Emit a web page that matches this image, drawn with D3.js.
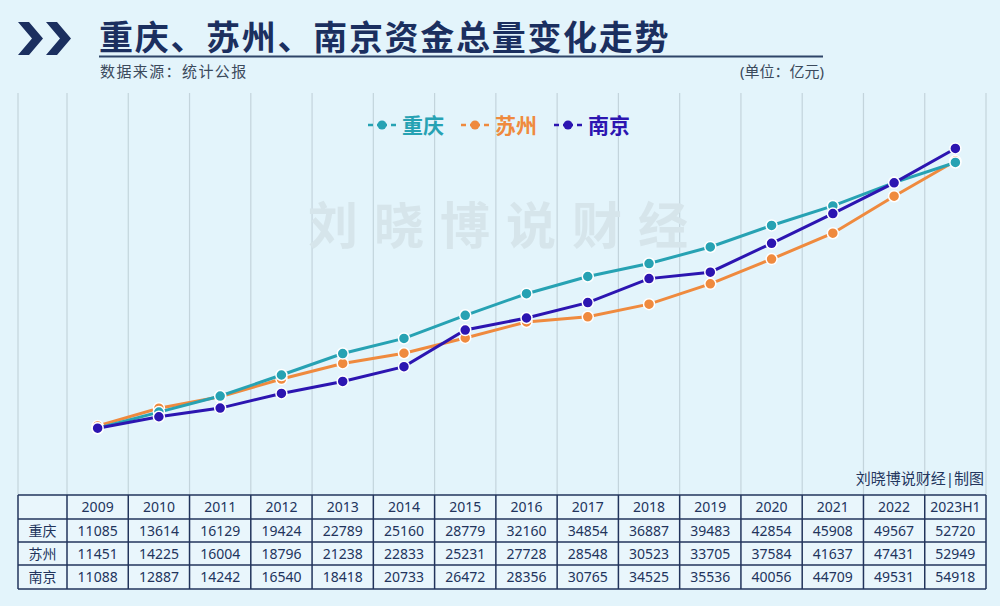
<!DOCTYPE html>
<html lang="zh">
<head>
<meta charset="UTF-8" />
<title>重庆、苏州、南京资金总量变化走势</title>
<style>
  body { margin: 0; background: #e3f4fb; }
  svg { display: block; font-family: "Noto Sans", "Noto Sans CJK SC", sans-serif; }
</style>
</head>
<body>
<div id="chart"></div>
<script src="https://d3js.org/d3.v7.min.js"></script>
<script>
const width = 1000;
const height = 606;

const years = ["2009", "2010", "2011", "2012", "2013", "2014", "2015", "2016",
  "2017", "2018", "2019", "2020", "2021", "2022", "2023H1"];
const chongqing = [11085, 13614, 16129, 19424, 22789, 25160, 28779, 32160,
  34854, 36887, 39483, 42854, 45908, 49567, 52720];
const suzhou = [11451, 14225, 16004, 18796, 21238, 22833, 25231, 27728,
  28548, 30523, 33705, 37584, 41637, 47431, 52949];
const nanjing = [11088, 12887, 14242, 16540, 18418, 20733, 26472, 28356,
  30765, 34525, 35536, 40056, 44709, 49531, 54918];
const cities = ["重庆", "苏州", "南京"];
const colors = ["#27a2b3", "#ef8a3e", "#2c15b1"];

const series = [
  { name: cities[0], values: chongqing, color: colors[0] },
  { name: cities[1], values: suzhou, color: colors[1] },
  { name: cities[2], values: nanjing, color: colors[2] }
];

const svg = d3.select("#chart").append("svg")
  .attr("width", width)
  .attr("height", height);

svg.append("rect").attr("width", width).attr("height", height).attr("fill", "#e3f4fb");

// header
const navy = "#1b2f5f";
const chev = svg.append("g").attr("fill", navy);
[18, 46].forEach(x0 => {
  chev.append("path")
    .attr("d", `M${x0},22 L${x0 + 11},22 L${x0 + 25},38.5 L${x0 + 11},55 L${x0},55 L${x0 + 14},38.5 Z`);
});

svg.append("text")
  .attr("x", 99).attr("y", 50)
  .attr("font-size", 34).attr("font-weight", 700)
  .attr("letter-spacing", 1.7)
  .attr("fill", navy)
  .text("重庆、苏州、南京资金总量变化走势");

svg.append("line")
  .attr("x1", 99).attr("x2", 823).attr("y1", 56.5).attr("y2", 56.5)
  .attr("stroke", "#2f4568").attr("stroke-width", 2);

svg.append("text")
  .attr("x", 100).attr("y", 77)
  .attr("font-size", 15).attr("fill", "#3b4a5c")
  .attr("letter-spacing", 1.4)
  .text("数据来源：统计公报");

svg.append("text")
  .attr("x", 824).attr("y", 77)
  .attr("text-anchor", "end")
  .attr("font-size", 15).attr("fill", "#3b4a5c")
  .text("(单位：亿元)");

// scales
const tableLeft = 18;
const firstCol = 67;
const right = 986;
const x = d3.scaleBand().domain(years).range([firstCol, right]);
const y = d3.scaleLinear().domain([0, 60000]).range([499, 116]);

// vertical grid
const gridX = [tableLeft, ...years.map(d => x(d)), right];
svg.append("g").selectAll("line").data(gridX).join("line")
  .attr("x1", d => d).attr("x2", d => d)
  .attr("y1", 93).attr("y2", 495)
  .attr("stroke", "#c3d4dc").attr("stroke-width", 1.2);

// watermark
svg.append("text")
  .attr("x", 506).attr("y", 244)
  .attr("text-anchor", "middle")
  .attr("font-size", 50).attr("font-weight", 700)
  .attr("letter-spacing", 16)
  .attr("fill", "#d6e5eb")
  .text("刘晓博说财经");

// legend
const legend = svg.append("g");
const legendX = [368, 461, 554];
series.forEach((s, i) => {
  const g = legend.append("g").attr("transform", `translate(${legendX[i]},125)`);
  g.append("line").attr("x1", 0).attr("x2", 28).attr("y1", 0).attr("y2", 0)
    .attr("stroke", s.color).attr("stroke-width", 2.5).attr("stroke-dasharray", "5,4,10,4,5");
  g.append("circle").attr("cx", 14).attr("cy", 0).attr("r", 4.5).attr("fill", s.color);
  g.append("text").attr("x", 34).attr("y", 7.5)
    .attr("font-size", 21).attr("font-weight", 700).attr("fill", s.color)
    .text(s.name);
});

// lines
const line = d3.line()
  .x((d, i) => x(years[i]) + x.bandwidth() / 2)
  .y(d => y(d));

const drawOrder = [1, 0, 2];
drawOrder.forEach(k => {
  const s = series[k];
  const g = svg.append("g");
  g.append("path")
    .datum(s.values)
    .attr("fill", "none")
    .attr("stroke", s.color)
    .attr("stroke-width", 3)
    .attr("d", line);
  g.selectAll("circle").data(s.values).join("circle")
    .attr("cx", (d, i) => x(years[i]) + x.bandwidth() / 2)
    .attr("cy", d => y(d))
    .attr("r", 5.5)
    .attr("fill", s.color)
    .attr("stroke", "#ffffff")
    .attr("stroke-width", 1.5);
});

// credit
svg.append("text")
  .attr("x", 984).attr("y", 484)
  .attr("text-anchor", "end")
  .attr("font-size", 15).attr("fill", "#23365e")
  .text("刘晓博说财经|制图");

// table
const rowTops = [495, 519, 542, 565, 589];
const table = svg.append("g");
const tableRows = [null, ...series];
table.append("rect")
  .attr("x", tableLeft).attr("y", rowTops[0])
  .attr("width", right - tableLeft).attr("height", rowTops[4] - rowTops[0])
  .attr("fill", "#e9f6fc");

table.selectAll("line.h").data(rowTops).join("line")
  .attr("class", "h")
  .attr("x1", tableLeft).attr("x2", right)
  .attr("y1", d => d).attr("y2", d => d)
  .attr("stroke", "#22345c").attr("stroke-width", 1.5);
table.selectAll("line.v").data(gridX).join("line")
  .attr("class", "v")
  .attr("x1", d => d).attr("x2", d => d)
  .attr("y1", rowTops[0]).attr("y2", rowTops[4])
  .attr("stroke", "#22345c").attr("stroke-width", 1.5);

tableRows.forEach((row, r) => {
  const cy = (rowTops[r] + rowTops[r + 1]) / 2 + 5;
  if (row) {
    table.append("text")
      .attr("x", (tableLeft + firstCol) / 2).attr("y", cy)
      .attr("text-anchor", "middle")
      .attr("font-size", 14).attr("fill", "#22345c")
      .text(row.name);
  }
  table.append("g").selectAll("text").data(years).join("text")
    .attr("x", d => x(d) + x.bandwidth() / 2)
    .attr("y", cy)
    .attr("text-anchor", "middle")
    .attr("font-size", 14).attr("fill", "#22345c")
    .text((d, i) => row ? row.values[i] : d);
});
</script>
</body>
</html>
